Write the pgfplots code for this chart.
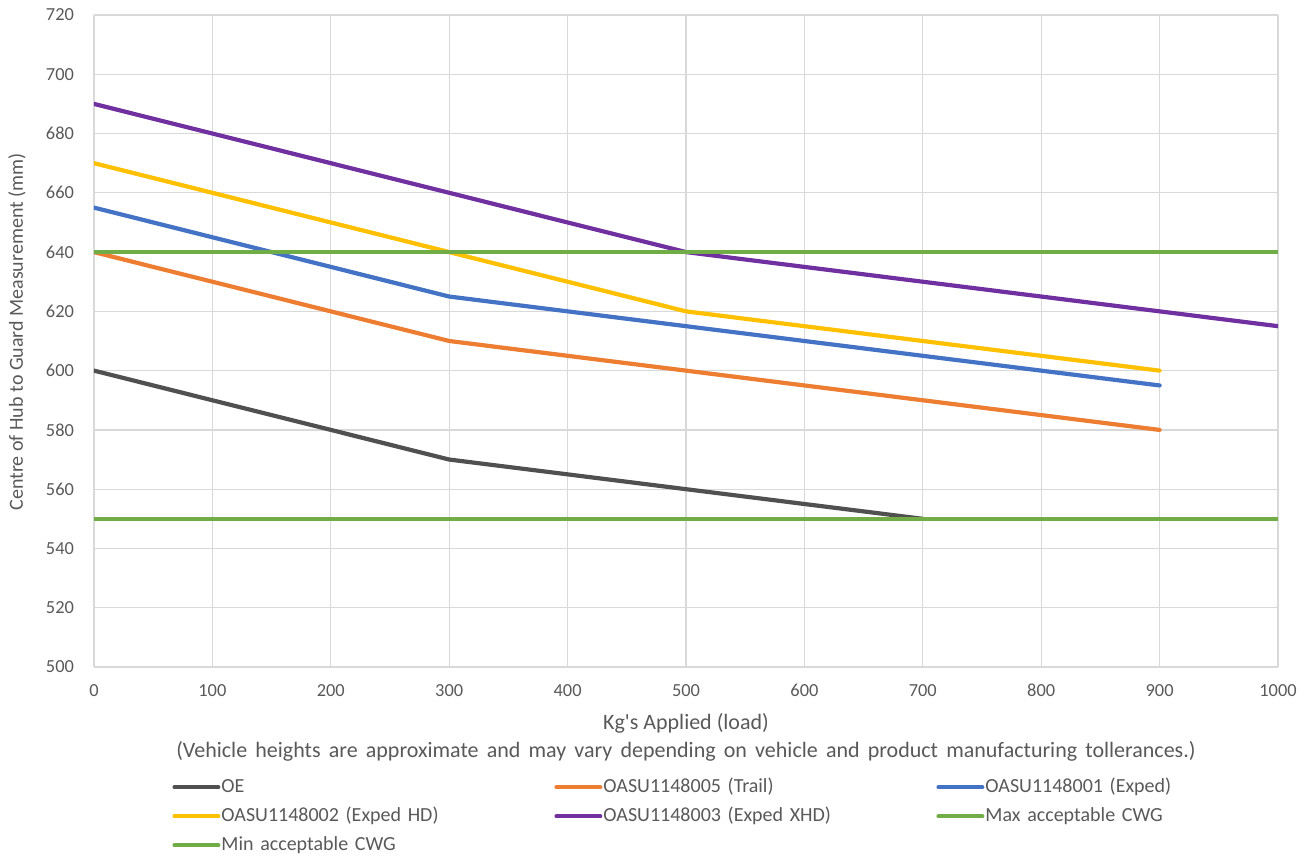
\documentclass[border=0pt]{standalone}
\usepackage{pgfplots}
\pgfplotsset{compat=1.18}
\usepackage{fontspec}
\setmainfont{Carlito}[Ligatures=TeXOff]
\definecolor{txt}{HTML}{595959}
\definecolor{gridc}{HTML}{D9D9D9}
\definecolor{cOE}{HTML}{505050}
\definecolor{cOr}{HTML}{ED7D31}
\definecolor{cBl}{HTML}{4472C4}
\definecolor{cYe}{HTML}{FFC000}
\definecolor{cPu}{HTML}{7030A0}
\definecolor{cGr}{HTML}{70AD47}
\DeclareRobustCommand\legfont{\fontsize{10}{11}\selectfont\spaceskip=4pt\relax}
\DeclareRobustCommand\widesp{\spaceskip=4.1pt\relax}
\begin{document}
\begin{tikzpicture}
\begin{axis}[
  name=ax,
  scale only axis,
  width=592pt, height=326pt,
  xmin=0, xmax=1000, ymin=500, ymax=720,
  xtick={0,100,...,1000}, ytick={500,520,...,720},
  grid=major,
  major grid style={draw=gridc, line width=0.6pt},
  axis line style={draw=none},
  tick style={draw=none},
  ticklabel style={font=\fontsize{9.2}{11}\selectfont, text=txt},
  /pgf/number format/assume math mode=true,
  /pgf/number format/1000 sep={},
  xticklabel style={yshift=-5pt},
  yticklabel style={xshift=-6.5pt},
  xlabel={Kg's Applied (load)\\{\widesp (Vehicle heights are approximate and may vary depending on vehicle and product manufacturing tollerances.)}},
  xlabel style={font=\fontsize{11}{14}\selectfont, text=txt, align=center, at={(axis description cs:0.5,-0.0706)}, anchor=north, inner sep=0pt},
  ylabel={Centre of Hub to Guard Measurement (mm)},
  ylabel style={font=\fontsize{10}{12}\selectfont, text=txt, at={(axis description cs:-0.065,0.514)}, anchor=center},
  legend columns=3,
  legend cell align=left,
  legend style={at={(axis description cs:0.0659,-0.170)}, anchor=north west, draw=none, fill=none,
    font=\legfont, text=txt,
    row sep=5.5pt, inner sep=0pt,
    nodes={inner ysep=0pt, inner xsep=0.5pt, text height=7pt, text depth=2pt, text width=166pt}},
  legend image code/.code={\draw[#1, line width=2pt, line cap=round] (0pt,0pt) -- (22pt,0pt);},
  every axis plot/.append style={line width=2.1pt, line join=round, line cap=round},
]
\addplot[cOE] coordinates {(0,600) (300,570) (500,560) (700,550)};
\addlegendentry{OE}
\addplot[cOr] coordinates {(0,640) (300,610) (500,600) (900,580)};
\addlegendentry{OASU1148005 (Trail)}
\addplot[cBl] coordinates {(0,655) (300,625) (500,615) (900,595)};
\addlegendentry{OASU1148001 (Exped)}
\addplot[cYe] coordinates {(0,670) (300,640) (500,620) (900,600)};
\addlegendentry{OASU1148002 (Exped HD)}
\addplot[cPu] coordinates {(0,690) (300,660) (500,640) (1000,615)};
\addlegendentry{OASU1148003 (Exped XHD)}
\addplot[cGr, line cap=butt] coordinates {(0,640) (1000,640)};
\addlegendentry{Max acceptable CWG}
\addplot[cGr, line cap=butt] coordinates {(0,550) (1000,550)};
\addlegendentry{Min acceptable CWG}
\end{axis}
\pgfresetboundingbox
\path ([shift={(-47pt,-94pt)}]ax.south west) rectangle ([shift={(15.5pt,7.5pt)}]ax.north east);
\end{tikzpicture}
\end{document}
